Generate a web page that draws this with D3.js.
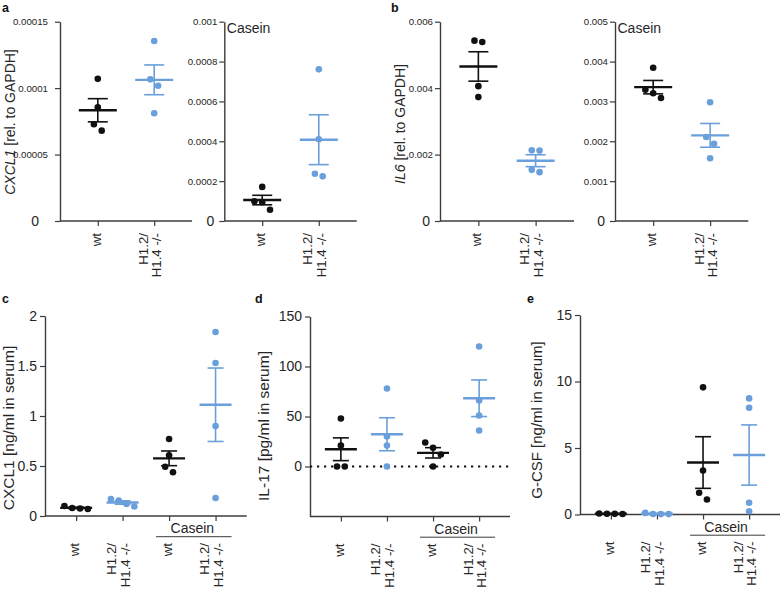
<!DOCTYPE html>
<html>
<head>
<meta charset="utf-8">
<script src="https://cdn.jsdelivr.net/npm/d3@7"></script>
<style>
  html, body { margin: 0; padding: 0; background: #fff; }
  svg { display: block; font-family: "Liberation Sans", Arial, sans-serif; }
</style>
</head>
<body>
<svg id="chart" width="782" height="589"></svg>
<script>
// ---------------- DATA ----------------
const groupLabels2 = [["wt"], ["H1.2/", "H1.4 -/-"]];
const groupLabels4 = [["wt"], ["H1.2/", "H1.4 -/-"], ["wt"], ["H1.2/", "H1.4 -/-"]];

// a: CXCL1 mRNA rel. to GAPDH (untreated, casein)
const aUntreatedWt = [0.000107, 0.0000856, 0.0000728, 0.0000680];
const aUntreatedKo = [0.0001355, 0.0001066, 0.0001018, 0.0000811];
const aCaseinWt = [0.000171, 0.0000988, 0.0000938, 0.0000567];
const aCaseinKo = [0.000761, 0.000410, 0.000237, 0.000224];

// b: IL6 mRNA rel. to GAPDH (untreated, casein)
const bUntreatedWt = [0.00543, 0.00539, 0.00406, 0.00373];
const bUntreatedKo = [0.00213, 0.00212, 0.00154, 0.00147];
const bCaseinWt = [0.003846, 0.003294, 0.003204, 0.003086];
const bCaseinKo = [0.002978, 0.002107, 0.001939, 0.001573];

// c: CXCL1 serum (wt, ko, casein wt, casein ko)
const cWt = [0.10, 0.08, 0.075, 0.07];
const cKo = [0.17, 0.155, 0.12, 0.095];
const cCaseinWt = [0.77, 0.607, 0.493, 0.437];
const cCaseinKo = [1.84, 1.53, 0.90, 0.18];

// d: IL-17 serum
const dWt = [48, 21, 0, 0];
const dKo = [78, 30, 21, 0];
const dCaseinWt = [24, 18.7, 12, 0];
const dCaseinKo = [120, 66, 51, 36];

// e: G-CSF serum
const eWt = [0.08, 0.06, 0.05, 0.04];
const eKo = [0.12, 0.04, 0.03, 0.03];
const eCaseinWt = [9.56, 3.31, 1.63, 1.13];
const eCaseinKo = [8.73, 8.03, 0.88, 0.25];

// tick values and labels
const aUntreatedTicks = [0, 0.00005, 0.0001, 0.00015];
const aUntreatedTickLabels = ["0", "0.00005", "0.0001", "0.00015"];
const aCaseinTicks = [0, 0.0002, 0.0004, 0.0006, 0.0008, 0.001];
const aCaseinTickLabels = ["0", "0.0002", "0.0004", "0.0006", "0.0008", "0.001"];
const bUntreatedTicks = [0, 0.002, 0.004, 0.006];
const bUntreatedTickLabels = ["0", "0.002", "0.004", "0.006"];
const bCaseinTicks = [0, 0.001, 0.002, 0.003, 0.004, 0.005];
const bCaseinTickLabels = ["0", "0.001", "0.002", "0.003", "0.004", "0.005"];
const cTicks = [0, 0.5, 1, 1.5, 2];
const cTickLabels = ["0", "0.5", "1", "1.5", "2"];
const dTicks = [0, 50, 100, 150];
const dTickLabels = ["0", "50", "100", "150"];
const eTicks = [0, 5, 10, 15];
const eTickLabels = ["0", "5", "10", "15"];

// ---------------- STYLE ----------------
const BLACK = "#111111";
const BLUE = "#6a9fdb";
const AXIS = "#3c3c3c";
const TEXT = "#262626";
const colors2 = [BLACK, BLUE];
const colors4 = [BLACK, BLUE, BLACK, BLUE];

// ---------------- PANELS ----------------
const panels = [
  { x0: 60, x1: 192, yTop: 21.7, yBot: 221, domain: [0, 0.00015], ticks: aUntreatedTicks, tickLabels: aUntreatedTickLabels,
    values: [aUntreatedWt, aUntreatedKo], labels: groupLabels2, colors: colors2, small: true, tickPad: 7, zeroShift: 9,
    ylabel: { x: 15, y: 122, it: "CXCL1", rest: " [rel. to GAPDH]", size: 14 }, letter: { t: "a", x: 2, y: 12 } },
  { x0: 224.3, x1: 356.7, yTop: 21.7, yBot: 221, domain: [0, 0.001], ticks: aCaseinTicks, tickLabels: aCaseinTickLabels,
    values: [aCaseinWt, aCaseinKo], labels: groupLabels2, colors: colors2, small: true, tickPad: 2, zeroShift: 3, caseinTop: true },
  { x0: 440, x1: 574, yTop: 21.7, yBot: 221, domain: [0, 0.006], ticks: bUntreatedTicks, tickLabels: bUntreatedTickLabels,
    values: [bUntreatedWt, bUntreatedKo], labels: groupLabels2, colors: colors2, small: true, tickPad: 2, zeroShift: 3,
    ylabel: { x: 405, y: 124, it: "IL6", rest: " [rel. to GAPDH]", size: 14 }, letter: { t: "b", x: 391, y: 12 } },
  { x0: 615, x1: 748.3, yTop: 21.7, yBot: 221, domain: [0, 0.005], ticks: bCaseinTicks, tickLabels: bCaseinTickLabels,
    values: [bCaseinWt, bCaseinKo], labels: groupLabels2, colors: colors2, small: true, tickPad: 2, zeroShift: 3, caseinTop: true },
  { x0: 45, x1: 246.7, yTop: 316, yBot: 516, domain: [0, 2], ticks: cTicks, tickLabels: cTickLabels,
    values: [cWt, cKo, cCaseinWt, cCaseinKo], labels: groupLabels4, colors: colors4, small: false, tickPad: 3, zeroShift: 0,
    ylabel: { x: 13.5, y: 428, it: "", rest: "CXCL1 [ng/ml in serum]", size: 15.5 }, letter: { t: "c", x: 2, y: 303 }, caseinBottom: true },
  { x0: 310, x1: 510, yTop: 316.5, yBot: 516.5, domain: [-50, 150], ticks: dTicks, tickLabels: dTickLabels,
    values: [dWt, dKo, dCaseinWt, dCaseinKo], labels: groupLabels4, colors: colors4, small: false, tickPad: 3, zeroShift: 0,
    ylabel: { x: 268.5, y: 426, it: "", rest: "IL-17 [pg/ml in serum]", size: 15.5 }, letter: { t: "d", x: 255, y: 303 }, caseinBottom: true, zeroLine: true },
  { x0: 580, x1: 780, yTop: 315, yBot: 514.5, domain: [0, 15], ticks: eTicks, tickLabels: eTickLabels,
    values: [eWt, eKo, eCaseinWt, eCaseinKo], labels: groupLabels4, colors: colors4, small: false, tickPad: 3, zeroShift: 0,
    ylabel: { x: 541.5, y: 420, it: "", rest: "G-CSF [ng/ml in serum]", size: 15 }, letter: { t: "e", x: 527, y: 303 }, caseinBottom: true }
];

const svg = d3.select("#chart");

function mean(a) { return d3.mean(a); }
function sem(a) { return d3.deviation(a) / Math.sqrt(a.length); }

function swarm(vals, y, r) {
  const pts = vals.map(v => ({ v, py: y(v), dx: 0 })).sort((a, b) => a.py - b.py);
  const clusters = [];
  let cur = [];
  pts.forEach((p, i) => {
    if (i > 0 && p.py - pts[i - 1].py < 2 * r + 1.5) cur.push(p);
    else { if (cur.length) clusters.push(cur); cur = [p]; }
  });
  if (cur.length) clusters.push(cur);
  const step = 2 * r + 1.2;
  clusters.forEach(c => c.forEach((p, k) => { p.dx = (k - (c.length - 1) / 2) * step; }));
  return pts;
}

panels.forEach(p => {
  const g = svg.append("g");
  const y = d3.scaleLinear().domain(p.domain).range([p.yBot, p.yTop]);
  const x = d3.scalePoint().domain(d3.range(p.values.length)).range([p.x0, p.x1]).padding(0.67);
  const top = p.small;
  const r = 3.3;
  const meanHalf = top ? 19 : 16;
  const capHalf = top ? 10 : 8;

  // y axis
  const gy = g.append("g").attr("transform", `translate(${p.x0},0)`)
    .call(d3.axisLeft(y).tickValues(p.ticks).tickSize(5).tickSizeOuter(0).tickPadding(p.tickPad)
      .tickFormat((d, i) => p.tickLabels[i]));
  gy.select(".domain").attr("stroke", AXIS).attr("stroke-width", 1.4);
  gy.selectAll(".tick line").attr("stroke", AXIS).attr("stroke-width", 1.2);
  gy.selectAll(".tick text").attr("fill", TEXT).attr("font-family", "Liberation Sans, Arial, sans-serif")
    .attr("font-size", d => top ? (d !== 0 ? 9.7 : 14) : 14)
    .attr("dx", d => d === 0 ? -p.zeroShift : 0);

  // x axis
  const gx = g.append("g").attr("transform", `translate(0,${p.yBot})`)
    .call(d3.axisBottom(x).tickSize(5).tickSizeOuter(0).tickFormat(""));
  gx.select(".domain").attr("stroke", AXIS).attr("stroke-width", 1.4)
    .attr("d", `M${p.x0},0H${p.x1}`);
  gx.selectAll(".tick line").attr("stroke", AXIS).attr("stroke-width", 1.2);

  // x labels (rotated)
  const labelTop = top ? p.yBot + 12 : p.yBot + 27;
  p.labels.forEach((lines, i) => {
    const cx = x(i);
    const offs = lines.length === 1 ? [3] : [-6.5, 7];
    lines.forEach((t, k) => {
      g.append("text")
        .attr("transform", `translate(${cx + offs[k]},${labelTop}) rotate(-90)`)
        .attr("text-anchor", "end")
        .attr("font-size", 13.3)
        .attr("fill", TEXT)
        .text(t);
    });
  });

  // zero dotted line
  if (p.zeroLine) {
    g.append("line").attr("x1", p.x0).attr("x2", p.x1).attr("y1", y(0)).attr("y2", y(0))
      .attr("stroke", BLACK).attr("stroke-width", 2.2).attr("stroke-dasharray", "2.2,4.8");
  }

  // points, SEM and mean
  p.values.forEach((vals, i) => {
    const pts = swarm(vals, y, r);
    g.selectAll(null).data(pts).enter().append("circle")
      .attr("cx", d => x(i) + d.dx).attr("cy", d => d.py).attr("r", r)
      .attr("fill", p.colors[i]);
    const m = mean(vals), s = sem(vals);
    const col = p.colors[i];
    g.append("line").attr("x1", x(i)).attr("x2", x(i)).attr("y1", y(m - s)).attr("y2", y(m + s))
      .attr("stroke", col).attr("stroke-width", 1.6);
    [m - s, m + s].forEach(v => {
      g.append("line").attr("x1", x(i) - capHalf).attr("x2", x(i) + capHalf).attr("y1", y(v)).attr("y2", y(v))
        .attr("stroke", col).attr("stroke-width", 1.6);
    });
    g.append("line").attr("x1", x(i) - meanHalf).attr("x2", x(i) + meanHalf).attr("y1", y(m)).attr("y2", y(m))
      .attr("stroke", col).attr("stroke-width", 2.4);
  });

  // Casein labels
  if (p.caseinTop) {
    g.append("text").attr("x", p.x0 + 2.5).attr("y", p.yTop + 11.5).attr("font-size", 14).attr("fill", TEXT).text("Casein");
  }
  if (p.caseinBottom) {
    const xa = x(2), xb = x(3);
    g.append("text").attr("x", (xa + xb) / 2).attr("y", p.yBot + 17).attr("text-anchor", "middle")
      .attr("font-size", 14).attr("fill", TEXT).text("Casein");
    g.append("line").attr("x1", xa - 13).attr("x2", xb + 16).attr("y1", p.yBot + 20.7).attr("y2", p.yBot + 20.7)
      .attr("stroke", AXIS).attr("stroke-width", 1);
  }

  // y label
  if (p.ylabel) {
    const t = g.append("text")
      .attr("transform", `translate(${p.ylabel.x},${p.ylabel.y}) rotate(-90)`)
      .attr("text-anchor", "middle").attr("font-size", p.ylabel.size).attr("fill", TEXT);
    if (p.ylabel.it) t.append("tspan").attr("font-style", "italic").text(p.ylabel.it);
    t.append("tspan").text(p.ylabel.rest);
  }
  // panel letter
  if (p.letter) {
    g.append("text").attr("x", p.letter.x).attr("y", p.letter.y).attr("font-size", 12.5)
      .attr("font-weight", "bold").attr("fill", "#111").text(p.letter.t);
  }
});
</script>
</body>
</html>
